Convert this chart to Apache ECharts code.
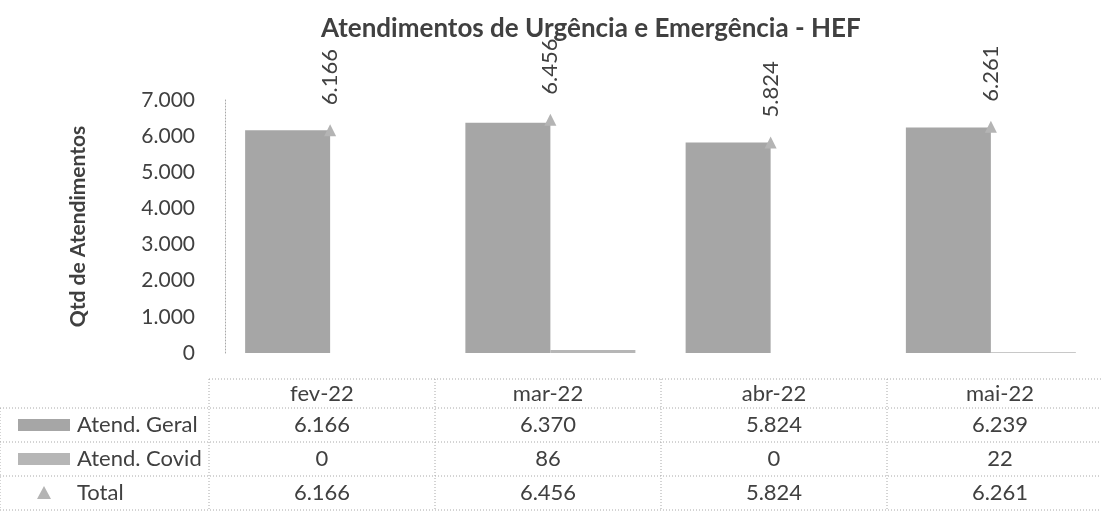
<!DOCTYPE html>
<html>
<head>
<meta charset="utf-8">
<script src="https://cdn.jsdelivr.net/npm/echarts@6/dist/echarts.min.js"></script>
<style>
  html, body { margin: 0; padding: 0; background: #fff; }
  #chart { width: 1101px; height: 515px; }
</style>
</head>
<body>
<div id="chart"></div>
<script>
// data
const meses = ['fev-22', 'mar-22', 'abr-22', 'mai-22'];
const atendGeral = [6166, 6370, 5824, 6239];
const atendCovid = [0, 86, 0, 22];
const total = [6166, 6456, 5824, 6261];
const yTicks = [0, 1000, 2000, 3000, 4000, 5000, 6000, 7000];

const FONT = 'Lato, "Open Sans", sans-serif';
const TXT = '#404040';
const GRID = '#a8a8a8';

// 6166 -> "6.166"
function fmt(v) {
  return String(v).replace(/\B(?=(\d{3})+(?!\d))/g, '.');
}

// table under the plot
const colX = [209, 435, 661, 887, 1113];
const rowY = [379, 408, 442, 476, 510];
const rows = [
  { name: 'Atend. Geral', vals: atendGeral, mark: 'bar', color: '#a6a6a6' },
  { name: 'Atend. Covid', vals: atendCovid, mark: 'bar', color: '#b6b6b6' },
  { name: 'Total', vals: total, mark: 'tri', color: '#b4b4b4' }
];

function buildTable() {
  const g = [];
  const line = (x1, y1, x2, y2) => g.push({
    type: 'line', silent: true,
    shape: { x1, y1, x2, y2 },
    style: { stroke: GRID, lineWidth: 1, lineDash: [1, 2] }
  });
  const text = (t, x, y, align) => g.push({
    type: 'text', silent: true,
    style: { text: t, x, y, fill: TXT, font: '22px ' + FONT, textAlign: align || 'center', textVerticalAlign: 'middle' }
  });

  // horizontal lines
  line(colX[0], rowY[0], 1101, rowY[0]);
  for (let r = 1; r < rowY.length; r++) line(0, rowY[r], 1101, rowY[r]);
  // vertical lines
  colX.forEach(x => line(x, rowY[0], x, rowY[rowY.length - 1]));
  line(0, rowY[1], 0, rowY[rowY.length - 1]);

  // header
  meses.forEach((m, i) => text(m, (colX[i] + colX[i + 1]) / 2, (rowY[0] + rowY[1]) / 2));

  rows.forEach((row, r) => {
    const yc = (rowY[r + 1] + rowY[r + 2]) / 2;
    if (row.mark === 'bar') {
      g.push({ type: 'rect', silent: true, shape: { x: 18, y: yc - 6, width: 52, height: 12 }, style: { fill: row.color } });
    } else {
      g.push({ type: 'polygon', silent: true, shape: { points: [[44, yc - 7], [37, yc + 6], [51, yc + 6]] }, style: { fill: row.color } });
    }
    text(row.name, 77, yc, 'left');
    row.vals.forEach((v, i) => text(fmt(v), (colX[i] + colX[i + 1]) / 2, yc));
  });
  return g;
}

const chart = echarts.init(document.getElementById('chart'));

chart.setOption({
  animation: false,
  textStyle: { fontFamily: FONT },
  title: {
    text: 'Atendimentos de Urgência e Emergência - HEF',
    left: 316, top: 11,
    textStyle: { fontFamily: FONT, fontSize: 26, fontWeight: 'bold', color: TXT }
  },
  grid: { left: 220, top: 100, width: 892, height: 253 },
  xAxis: {
    type: 'category',
    data: meses,
    axisLine: { show: false },
    axisTick: { show: false },
    axisLabel: { show: false }
  },
  yAxis: {
    type: 'value',
    min: 0, max: 7000, interval: 1000,
    offset: -5,
    name: 'Qtd de Atendimentos',
    nameLocation: 'middle',
    nameRotate: 90,
    nameGap: 136,
    nameTextStyle: { fontFamily: FONT, fontSize: 21, fontWeight: 'bold', color: TXT },
    splitLine: { show: false },
    axisTick: { show: false },
    axisLine: { show: true, lineStyle: { color: GRID, type: [1, 2] } },
    axisLabel: {
      margin: 30, fontSize: 21, color: TXT, fontFamily: FONT,
      formatter: v => yTicks.includes(v) ? fmt(v) : ''
    }
  },
  series: [
    {
      name: 'Atend. Geral', type: 'bar', data: atendGeral,
      barWidth: 85, barGap: '0%',
      itemStyle: { color: rows[0].color }
    },
    {
      name: 'Atend. Covid', type: 'bar', data: atendCovid,
      barWidth: 85, barGap: '0%',
      itemStyle: { color: rows[1].color }
    },
    {
      name: 'Total', type: 'line', data: total,
      lineStyle: { opacity: 0 },
      symbol: 'triangle', symbolSize: 12,
      itemStyle: { color: rows[2].color },
      label: {
        show: true, position: 'top', distance: 19,
        rotate: 90, align: 'left', verticalAlign: 'middle',
        fontSize: 22, color: TXT, fontFamily: FONT,
        formatter: p => fmt(p.value)
      },
      z: 5
    }
  ],
  graphic: buildTable()
});
</script>
</body>
</html>
